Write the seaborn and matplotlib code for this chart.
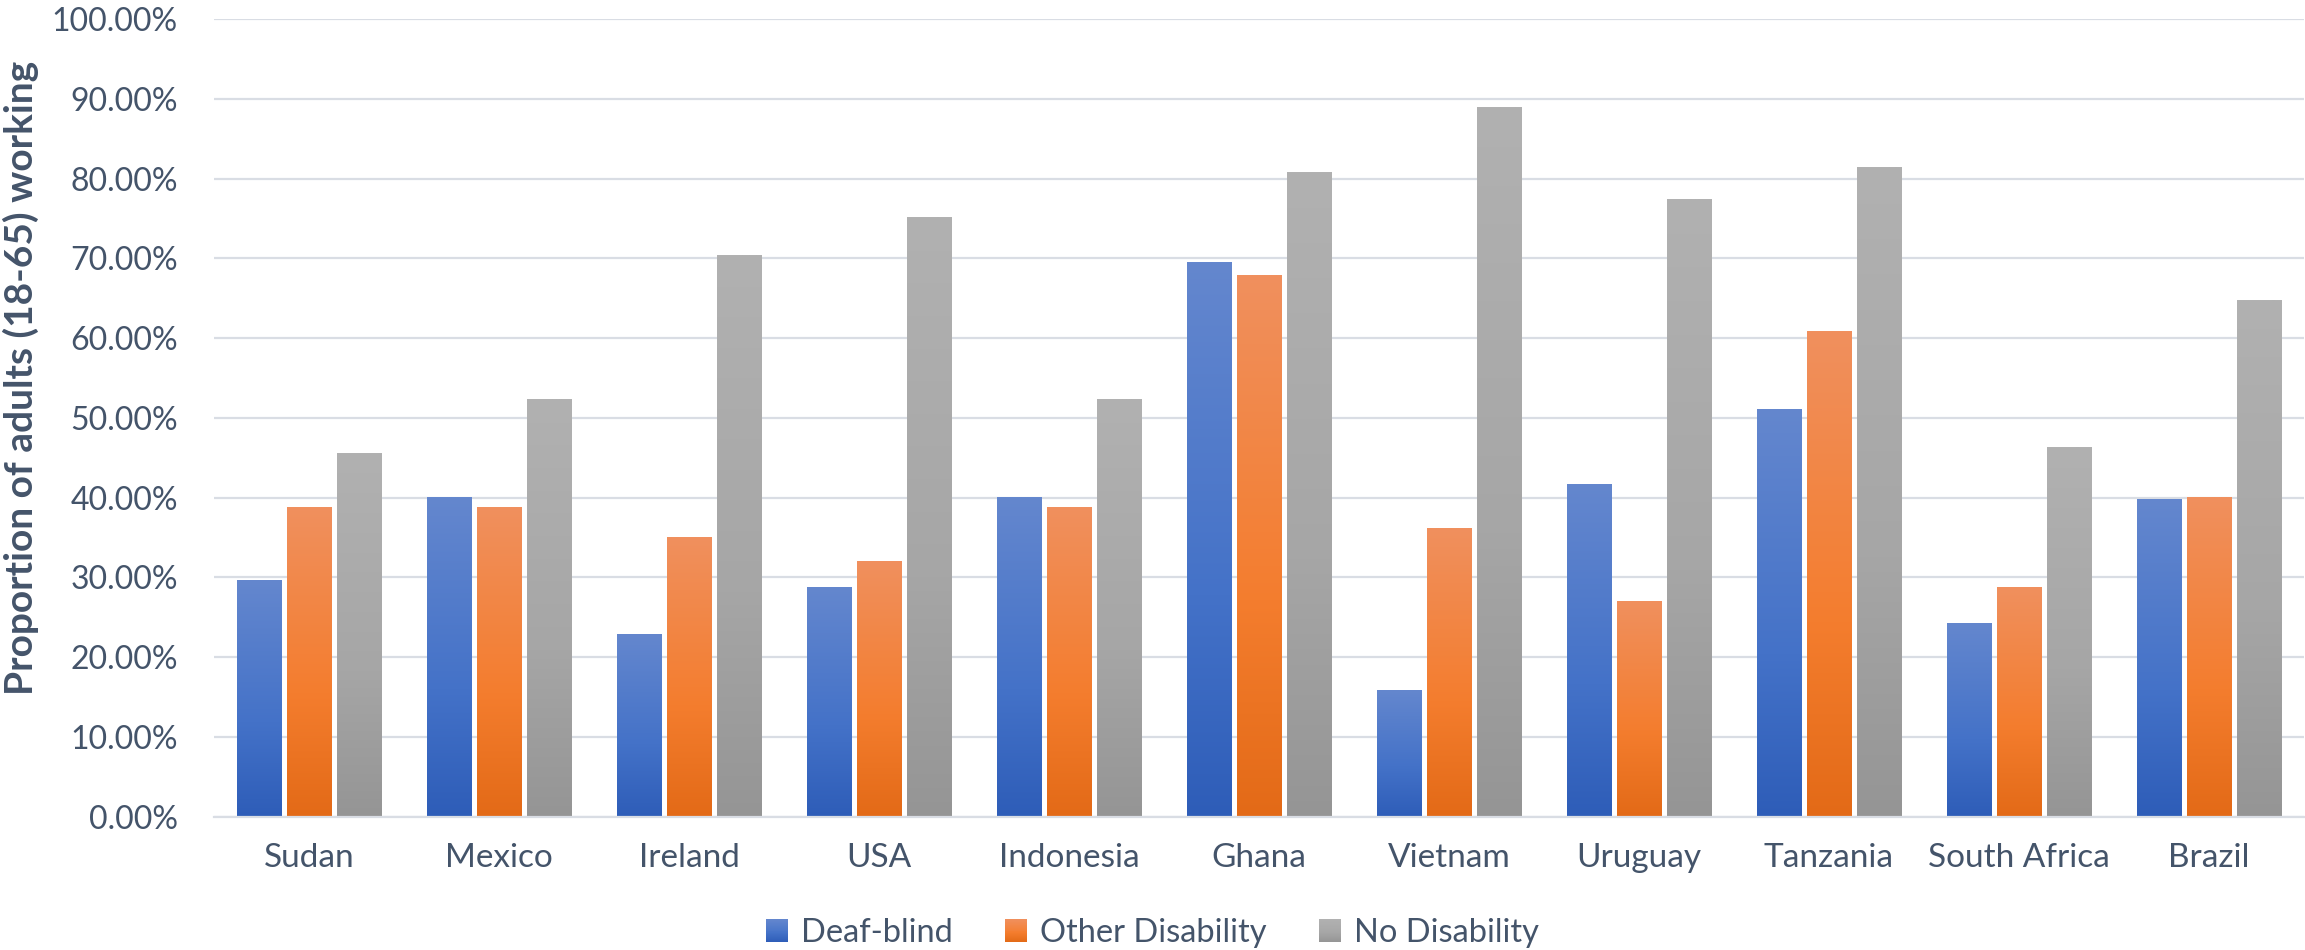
import numpy as np
import pandas as pd
import seaborn as sns
import matplotlib
matplotlib.use("Agg")
import matplotlib.pyplot as plt
from matplotlib.colors import LinearSegmentedColormap
from matplotlib.legend_handler import HandlerBase
from matplotlib.patches import Rectangle
from matplotlib.ticker import FuncFormatter, MultipleLocator

# ---- data (percent of adults aged 18-65 who are working) ----
countries = ["Sudan", "Mexico", "Ireland", "USA", "Indonesia", "Ghana",
             "Vietnam", "Uruguay", "Tanzania", "South Africa", "Brazil"]
groups = ["Deaf-blind", "Other Disability", "No Disability"]
deaf_blind = [29.7, 40.0, 22.9, 28.8, 40.0, 69.5, 15.9, 41.7, 51.1, 24.2, 39.8]
other_disability = [38.8, 38.8, 35.1, 32.0, 38.8, 67.9, 36.2, 27.0, 60.9, 28.8, 40.0]
no_disability = [45.6, 52.4, 70.4, 75.1, 52.4, 80.8, 89.0, 77.4, 81.4, 46.3, 64.8]
y_label = "Proportion of adults (18-65) working"

df = pd.DataFrame({
    "country": countries * 3,
    "group": [g for g in groups for _ in countries],
    "value": deaf_blind + other_disability + no_disability,
})

# ---- styling ----
TEXT = "#44546A"
GRID = "#D9DDE4"
gradients = {
    "Deaf-blind": ["#6487CE", "#4472C8", "#2E5DB8"],
    "Other Disability": ["#F0905E", "#F47D2E", "#E36A17"],
    "No Disability": ["#B1B1B1", "#A6A6A6", "#959595"],
}
cmaps = {g: LinearSegmentedColormap.from_list(
            g, list(zip([0.0, 0.6, 1.0], c))) for g, c in gradients.items()}
mid_colors = [gradients[g][1] for g in groups]

sns.set_style("white")
plt.rcParams["font.family"] = ["Lato", "DejaVu Sans"]

fig = plt.figure(figsize=(23.05, 9.5), dpi=100)
ax = fig.add_axes([214 / 2305, 1 - 816.7 / 950, 2090 / 2305, 797.7 / 950])

sns.barplot(data=df, x="country", y="value", hue="group", hue_order=groups,
            order=countries, palette=mid_colors, saturation=1,
            width=0.785, gap=0.11, legend=False, errorbar=None, ax=ax)

xlim = ax.get_xlim()
ax.set_ylim(0, 100)

# vertical gradient fill for each bar
ramp = np.linspace(0, 1, 256)
for g, container in zip(groups, ax.containers):
    img = cmaps[g](ramp)[:, None, :3]
    for rect in container:
        x0, w, h = rect.get_x(), rect.get_width(), rect.get_height()
        ax.imshow(img, extent=(x0, x0 + w, 0, h), origin="upper",
                  aspect="auto", interpolation="bilinear", zorder=2)
        rect.set_facecolor("none")
        rect.set_edgecolor("none")

ax.set_xlim(xlim)
ax.set_ylim(0, 100)

# axes, grid and ticks
ax.yaxis.set_major_locator(MultipleLocator(10))
ax.yaxis.set_major_formatter(FuncFormatter(lambda v, _: f"{v:.2f}%"))
ax.yaxis.grid(True, color=GRID, linewidth=1.6)
ax.xaxis.grid(False)
ax.set_axisbelow(True)
for side in ("top", "right", "left"):
    ax.spines[side].set_visible(False)
ax.spines["bottom"].set_color(GRID)
ax.spines["bottom"].set_linewidth(1.6)
ax.tick_params(axis="y", length=0, pad=26, labelsize=23, labelcolor=TEXT)
ax.tick_params(axis="x", length=0, pad=19, labelsize=24, labelcolor=TEXT)
ax.set_xlabel("")
ax.set_ylabel(y_label, fontsize=28, fontweight="bold", color=TEXT)
ax.yaxis.set_label_coords(-0.0835, 0.55)


class GradientSquare(HandlerBase):
    def __init__(self, cmap, strips=24):
        super().__init__()
        self.cmap = cmap
        self.strips = strips

    def create_artists(self, legend, orig_handle, xdescent, ydescent,
                       width, height, fontsize, trans):
        side = min(width, height * 1.05)
        x0 = -xdescent + (width - side) / 2
        y0 = -ydescent + (height - side) / 2
        step = side / self.strips
        arts = []
        for i in range(self.strips):
            c = self.cmap(1 - (i + 0.5) / self.strips)
            arts.append(Rectangle((x0, y0 + i * step), side, step * 1.05,
                                  facecolor=c, edgecolor="none",
                                  transform=trans))
        return arts


handles = [Rectangle((0, 0), 1, 1, facecolor=c) for c in mid_colors]
handler_map = {h: GradientSquare(cmaps[g]) for h, g in zip(handles, groups)}
fig.legend(handles, groups, handler_map=handler_map, loc="center",
           bbox_to_anchor=(0.5, 1 - 933 / 950), ncol=3, frameon=False,
           fontsize=23.5, labelcolor=TEXT, handlelength=0.68, handleheight=0.68,
           handletextpad=0.4, columnspacing=1.6)

fig.savefig("out.png", dpi=100, facecolor="white")
